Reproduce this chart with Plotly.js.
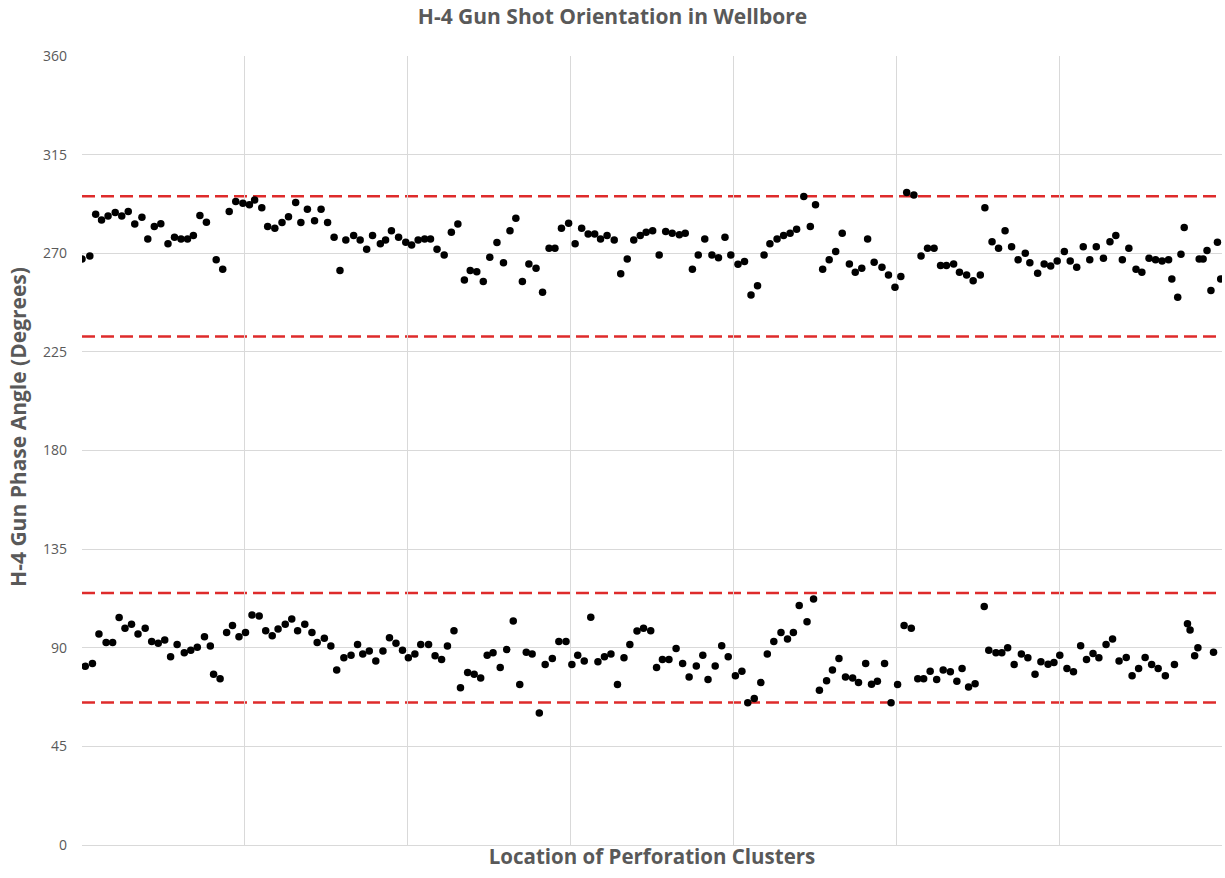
<!DOCTYPE html>
<html>
<head>
<meta charset="utf-8">
<script src="https://cdn.plot.ly/plotly-3.0.1.min.js"></script>
<style>html,body{margin:0;padding:0;background:#fff;}#chart{width:1225px;height:878px;}</style>
</head>
<body>
<div id="chart"></div>
<script>
// Location of each perforation cluster (relative units) and gun phase angle (degrees)
const upperLoc = [0.0,1.2,2.1,3.0,4.0,5.1,6.1,7.1,8.1,9.2,10.1,11.1,12.1,13.2,14.2,15.2,16.2,17.1,18.1,19.1,20.6,21.6,22.6,23.6,24.7,25.7,26.5,27.6,28.5,
  29.6,30.7,31.7,32.8,33.6,34.6,35.7,36.7,37.7,38.7,39.6,40.5,41.7,42.7,43.7,44.6,45.8,46.6,47.5,48.6,49.7,50.6,51.6,52.6,53.5,54.5,55.6,56.7,57.7,
  58.7,59.6,60.6,61.6,62.6,63.7,64.7,65.7,66.6,67.6,68.6,69.7,70.7,71.7,72.6,73.6,74.7,75.7,76.7,77.7,78.7,79.6,80.6,81.7,82.7,83.7,84.7,85.7,86.6,
  87.6,88.6,89.6,90.6,91.7,92.6,93.7,94.6,95.6,96.7,97.7,98.7,99.6,100.7,101.7,102.7,103.7,104.7,105.6,106.7,107.7,108.7,109.7,110.8,111.8,112.6,113.7,114.7,115.7,
  116.7,117.8,118.7,119.7,120.6,121.6,122.8,123.8,124.8,125.7,126.6,127.7,128.8,129.8,130.8,131.8,132.7,133.8,134.7,135.8,136.8,137.9,138.6,139.7,140.7,141.7,142.7,143.7,144.8,
  145.5,146.7,147.7,148.7,149.7,150.8,151.7,152.7,153.7,154.7,155.7,156.8,157.8,158.7,159.7,160.7,161.8,162.7,163.8,164.8,165.8,166.8,167.3,168.2,168.7,169.2,171.5,172.1,172.7,173.3,174.3,174.8];
const upperAngle = [267.4,268.8,287.8,285.2,287.0,288.6,287.0,289.0,283.4,286.4,276.5,282.2,283.5,274.3,277.3,276.5,276.5,278.1,287.2,284.1,267.0,262.7,289.0,293.6,292.8,292.1,294.3,290.8,282.2,
  281.4,284.0,286.7,293.1,284.0,290.1,284.8,290.1,284.0,277.3,262.1,276.1,278.1,276.1,271.8,278.1,274.3,276.1,280.3,277.3,275.0,273.8,276.1,276.5,276.5,271.8,269.2,279.6,283.4,
  257.8,262.1,261.6,257.1,268.2,274.9,265.7,280.3,286.0,257.1,265.1,263.2,252.2,272.3,272.3,281.4,283.7,274.3,281.4,278.8,278.8,276.5,278.1,276.1,260.6,267.4,276.1,278.1,279.6,
  280.3,269.2,279.9,279.1,278.4,279.1,262.7,269.2,276.5,269.2,268.0,277.3,269.2,265.0,266.2,251.0,255.2,269.2,274.3,276.5,278.1,279.1,281.0,295.9,282.2,292.1,262.7,267.0,270.8,
  279.1,265.1,261.3,263.2,276.5,265.9,263.6,260.1,254.5,259.4,297.7,296.6,268.8,272.3,272.3,264.4,264.4,265.1,261.3,260.1,257.5,260.1,290.8,275.3,272.3,280.3,273.0,267.0,270.0,
  265.7,260.9,265.1,264.2,266.5,270.8,266.5,263.6,273.0,267.0,273.0,267.7,275.3,278.1,267.0,272.3,262.7,261.3,267.7,267.0,266.5,267.0,258.3,249.9,269.5,281.7,267.4,267.4,271.2,253.0,275.0,258.3];

const lowerLoc = [0.5,1.6,2.6,3.7,4.7,5.7,6.6,7.6,8.6,9.7,10.7,11.7,12.7,13.6,14.6,15.7,16.7,17.7,18.8,19.7,20.2,21.2,22.2,23.1,24.1,25.1,26.1,27.2,28.2,
  29.2,30.1,31.2,32.2,33.1,34.2,35.3,36.1,37.2,38.2,39.1,40.2,41.3,42.3,43.1,44.1,45.1,46.2,47.2,48.2,49.2,50.1,51.1,52.0,53.2,54.2,55.2,56.1,57.1,
  58.1,59.2,60.2,61.2,62.2,63.1,64.2,65.2,66.2,67.2,68.2,69.1,70.2,71.1,72.2,73.2,74.3,75.2,76.1,77.1,78.1,79.2,80.2,81.2,82.2,83.2,84.1,85.2,86.2,
  87.3,88.2,89.1,90.1,91.2,92.2,93.2,94.3,95.3,96.1,97.2,98.2,99.2,100.3,101.3,102.2,103.2,104.2,105.2,106.2,107.3,108.3,109.2,110.1,111.3,112.3,113.2,114.3,115.2,
  116.2,117.2,118.3,119.2,120.3,121.2,122.1,123.2,124.2,125.2,126.2,127.3,128.3,129.2,130.2,131.2,132.2,133.3,134.3,135.1,136.1,137.1,138.5,139.2,140.3,141.2,142.1,143.1,144.2,145.2,
  146.3,147.2,148.3,149.2,150.1,151.2,152.2,153.3,154.2,155.2,156.1,157.2,158.2,159.2,160.3,161.2,162.2,163.2,164.2,165.2,166.3,167.7,169.7,170.1,170.8,171.3,173.7];
const lowerAngle = [81.6,82.8,96.3,92.4,92.4,103.8,98.9,100.7,96.3,98.9,92.8,92.0,93.5,85.9,91.5,87.7,88.9,90.2,95.0,90.8,77.9,75.9,97.0,100.1,95.0,97.0,105.0,104.5,97.8,
  95.5,98.6,100.7,103.1,97.8,100.7,97.0,92.4,94.3,90.8,79.8,85.4,86.6,91.5,87.1,88.5,84.0,88.5,94.6,92.0,88.9,85.4,87.1,91.5,91.5,86.3,84.6,90.8,97.8,
  71.8,78.7,77.9,76.2,86.6,87.7,81.0,89.2,102.2,73.2,87.9,87.1,60.2,82.4,85.1,92.8,92.8,82.4,86.6,84.0,103.9,83.6,85.9,87.1,73.2,85.4,91.5,97.6,98.9,
  97.8,81.0,84.6,84.6,89.7,82.8,76.7,81.7,86.6,75.5,81.7,90.9,85.9,77.2,79.3,64.9,66.8,74.1,87.1,92.8,97.0,94.0,97.0,109.3,101.9,112.3,70.6,74.9,79.8,
  85.1,76.7,76.2,74.1,82.8,73.3,74.7,82.8,64.9,73.2,100.1,98.9,75.9,75.9,79.3,75.5,79.8,79.0,74.7,80.5,72.1,73.6,108.8,88.9,87.7,87.7,90.0,82.4,87.1,85.4,
  77.9,83.6,82.5,83.3,86.6,80.5,79.0,90.9,84.6,87.4,85.4,91.5,94.0,84.0,85.6,77.2,80.5,85.6,82.4,80.5,77.2,82.4,100.9,98.1,86.3,90.0,87.9];

// Tolerance limits (degrees)
const limitAngles = [232, 296, 65, 115];
const xRange = [0, 175];
const yTicks = [0, 45, 90, 135, 180, 225, 270, 315, 360];

const markerStyle = {color: '#000000', size: 7.5};
const traces = [
  {type: 'scatter', mode: 'markers', x: upperLoc, y: upperAngle, marker: markerStyle, hoverinfo: 'y', showlegend: false},
  {type: 'scatter', mode: 'markers', x: lowerLoc, y: lowerAngle, marker: markerStyle, hoverinfo: 'y', showlegend: false}
];

const shapes = limitAngles.map(v => ({
  type: 'line', xref: 'paper', yref: 'y', x0: 0, x1: 1, y0: v, y1: v,
  line: {color: '#de2b2b', width: 2.5, dash: '13px,6px'}, layer: 'below'
}));

const gray = '#595959';
const fam = 'Open Sans, Arial, sans-serif';
const layout = {
  width: 1225, height: 878,
  margin: {l: 82, r: 3, t: 56, b: 33},
  paper_bgcolor: '#ffffff', plot_bgcolor: '#ffffff',
  font: {family: fam, color: gray, size: 13},
  title: {text: '<b>H-4 Gun Shot Orientation in Wellbore</b>', x: 0.5, xref: 'container', y: 0.981, yref: 'container', yanchor: 'middle',
          font: {family: fam, size: 21, color: gray}},
  xaxis: {
    range: xRange, dtick: 25, tick0: 0, showticklabels: false, ticks: '',
    showgrid: true, gridcolor: '#d9d9d9', gridwidth: 1, zeroline: false,
    showline: true, linecolor: '#d9d9d9', linewidth: 1, mirror: false,
    title: {text: '<b>Location of Perforation Clusters</b>', standoff: 4,
            font: {family: fam, size: 20.5, color: gray}}
  },
  yaxis: {
    range: [0, 360], tickvals: yTicks, ticktext: yTicks.map(String), ticks: '',
    showgrid: true, gridcolor: '#d9d9d9', gridwidth: 1, zeroline: false,
    showline: false, ticklabelstandoff: 14,
    tickfont: {family: fam, size: 14, color: gray}
  },
  annotations: [{
    text: '<b>H-4 Gun Phase Angle (Degrees)</b>', textangle: -90,
    xref: 'paper', yref: 'paper', x: -0.0561, y: 0.53, xanchor: 'center', yanchor: 'middle',
    showarrow: false, font: {family: fam, size: 21, color: gray}
  }],
  shapes: shapes
};

Plotly.newPlot('chart', traces, layout, {displayModeBar: false, staticPlot: true});
</script>
</body>
</html>
